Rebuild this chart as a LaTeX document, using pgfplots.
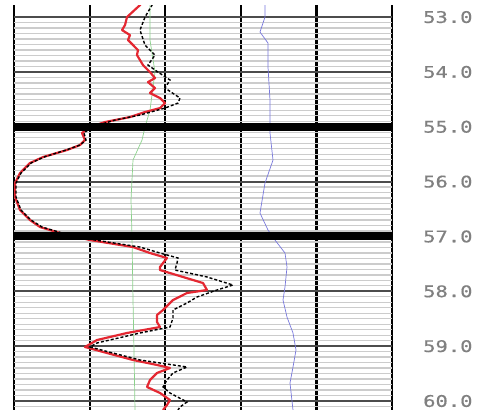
\documentclass[border=0pt]{standalone}
\usepackage{pgfplots}
\pgfplotsset{compat=1.18}
\usepackage{fontspec}
\newfontfamily\labfont[FakeStretch=1.28,FakeBold=0.6]{DejaVu Sans Mono}
\definecolor{logred}{RGB}{228,40,50}
\definecolor{loggreen}{RGB}{140,210,140}
\definecolor{logblue}{RGB}{120,120,220}
\begin{document}
\begin{tikzpicture}[x=1pt,y=1pt]
\path[use as bounding box] (0,0) rectangle (496,410);
\begin{axis}[
  at={(14pt,0pt)}, anchor=south west,
  scale only axis, width=378pt, height=405pt,
  xmin=14, xmax=392,
  y dir=reverse, ymin=52.78, ymax=60.164,
  axis line style={draw=none},
  xtick={14,89.6,165.2,240.8,316.4,392}, xticklabels={},
  ytick={53,54,55,56,57,58,59,60},
  yticklabels={53.0,54.0,55.0,56.0,57.0,58.0,59.0,60.0},
  minor ytick={53.1,53.2,53.3,53.4,53.5,53.6,53.7,53.8,53.9,
               54.1,54.2,54.3,54.4,54.5,54.6,54.7,54.8,54.9,
               55.1,55.2,55.3,55.4,55.5,55.6,55.7,55.8,55.9,
               56.1,56.2,56.3,56.4,56.5,56.6,56.7,56.8,56.9,
               57.1,57.2,57.3,57.4,57.5,57.6,57.7,57.8,57.9,
               58.1,58.2,58.3,58.4,58.5,58.6,58.7,58.8,58.9,
               59.1,59.2,59.3,59.4,59.5,59.6,59.7,59.8,59.9,60.1},
  xmajorgrids, ymajorgrids, yminorgrids,
  major x grid style={black, line width=2.2pt},
  major y grid style={black!70, line width=2pt},
  minor y grid style={black!20, line width=1.3pt},
  major tick length=0pt, minor tick length=0pt,
  yticklabel pos=right,
  yticklabel style={anchor=west, inner sep=0pt, xshift=31pt, text=black!50, font=\labfont\fontsize{16}{16}\selectfont},
  clip=true,
]
% green curve
\addplot[loggreen, line width=0.7pt] coordinates {
(150,52.690) (150,53.419) (155,54.003) (150,54.696) (145,55.005) (142,55.242)
(133,55.607) (131,56.336) (132,56.992) (133,58.159) (134,59.070) (135,60.164)};
% blue curve
\addplot[logblue, line width=0.7pt] coordinates {
(265,52.690) (265,53.000) (260,53.273) (268,53.474) (268,53.911) (270,54.513)
(270,55.114) (273,55.607) (265,56.026) (260,56.573) (268,56.883) (275,57.065)
(285,57.302) (287,57.557) (285,57.922) (283,58.159) (287,58.469) (293,58.760)
(296,59.070) (293,59.380) (290,59.672) (293,60.164)};
% red curve
\addplot[logred, line width=2.2pt, line join=round] coordinates {
(143,52.690) (140,52.781) (127,53.000) (125,53.146) (122,53.237) (130,53.328)
(128,53.419) (133,53.510) (138,53.602) (137,53.693) (140,53.784) (143,53.875)
(150,54.003) (155,54.112) (148,54.185) (155,54.294) (150,54.385) (160,54.476)
(165,54.568) (160,54.659) (145,54.732) (130,54.823) (105,54.914) (90,55.005)
(82,55.114) (85,55.242) (80,55.333) (67,55.424) (43,55.552) (30,55.661)
(20,55.844) (15,56.026) (15,56.281) (20,56.518) (30,56.700) (40,56.828)
(60,56.937) (90,57.065) (133,57.193) (150,57.302) (167,57.393) (163,57.484)
(160,57.557) (160,57.612) (183,57.739) (203,57.849) (207,57.976) (187,58.031)
(173,58.159) (163,58.341) (157,58.432) (157,58.560) (160,58.651) (127,58.760)
(97,58.888) (85,59.015) (107,59.125) (133,59.252) (157,59.343) (170,59.398)
(157,59.489) (150,59.617) (147,59.744) (160,59.854) (170,59.982) (167,60.073)
(163,60.164)};
% black dashed curve
\addplot[black, line width=1.4pt, dash pattern=on 3pt off 2pt] coordinates {
(155,52.690) (145,53.000) (140,53.237) (145,53.510) (155,53.693) (148,53.875)
(158,54.003) (170,54.148) (165,54.294) (180,54.476) (178,54.568) (165,54.659)
(140,54.786) (115,54.878) (92,55.005) (84,55.114) (86,55.242) (80,55.333)
(66,55.424) (44,55.552) (31,55.661) (21,55.844) (16,56.026) (16,56.281)
(21,56.518) (31,56.700) (42,56.828) (62,56.937) (95,57.065) (140,57.193)
(160,57.302) (178,57.393) (177,57.484) (175,57.612) (207,57.739) (233,57.885)
(217,57.976) (197,58.104) (187,58.213) (173,58.341) (173,58.487) (170,58.651)
(140,58.760) (97,58.942) (90,59.015) (113,59.125) (140,59.252) (187,59.380)
(173,59.489) (167,59.617) (163,59.744) (170,59.854) (187,60.018) (180,60.109)
(178,60.164)};
% thick zone boundaries
\draw[black, line width=8pt, overlay] (axis cs:14,55) -- (axis cs:392,55);
\draw[black, line width=8pt, overlay] (axis cs:9,57) -- (axis cs:394,57);
\end{axis}
\end{tikzpicture}
\end{document}
